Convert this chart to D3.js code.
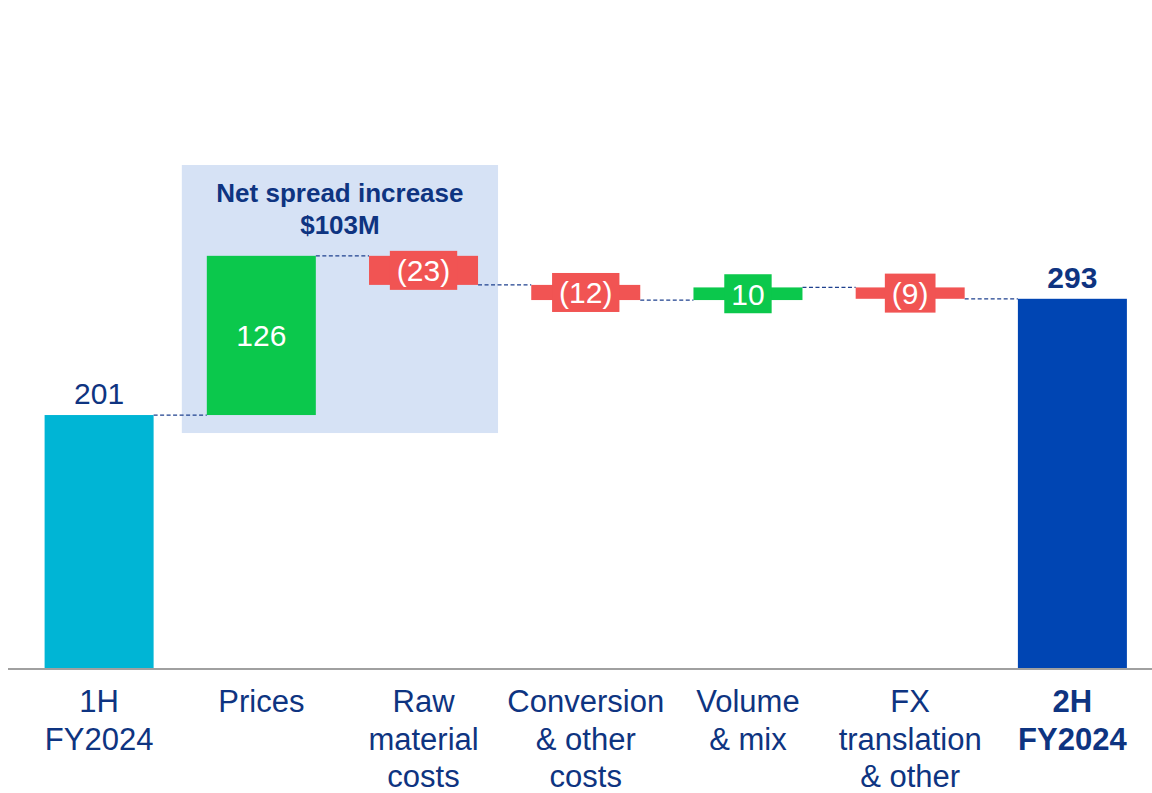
<!DOCTYPE html>
<html>
<head>
<meta charset="utf-8">
<script src="https://cdn.jsdelivr.net/npm/d3@7/dist/d3.min.js"></script>
<style>
  html, body { margin: 0; padding: 0; background: #ffffff; }
  svg { display: block; font-family: "Liberation Sans", Arial, Helvetica, sans-serif; }
</style>
</head>
<body>
<svg id="chart" width="1152" height="793"></svg>
<script>
// Bridge steps from 1H to 2H FY2024 ($M)
const categories = ["1H\nFY2024", "Prices", "Raw\nmaterial\ncosts", "Conversion\n& other\ncosts", "Volume\n& mix", "FX\ntranslation\n& other", "2H\nFY2024"];
const values = [201, 126, -23, -12, 10, -9, 293];
const kinds = ["start", "delta", "delta", "delta", "delta", "delta", "total"];
const annotationLines = ["Net spread increase", "$103M"];
const annotationSpan = ["Prices", "Raw\nmaterial\ncosts"];

const navy = "#0E3481";
const colors = { start: "#00B5D5", total: "#0045B3", up: "#0BC84C", down: "#F15453" };

const W = 1152, H = 793;
const svg = d3.select("#chart");

const x = d3.scaleBand()
  .domain(categories)
  .range([18, 1153.5])
  .paddingInner(0.328)
  .paddingOuter(0.164);

const y = d3.scaleLinear().domain([0, 500]).range([669, 669 - 500 * 1.2635]);

// running totals for each step
let run = 0;
const steps = categories.map((c, i) => {
  const v = values[i];
  let lo, hi, end;
  if (kinds[i] === "delta") {
    const start = run;
    end = run + v;
    lo = Math.min(start, end); hi = Math.max(start, end);
    run = end;
  } else {
    lo = 0; hi = v; end = v; run = v;
  }
  return { cat: c, value: v, kind: kinds[i], lo, hi, end };
});

const fmt = v => v < 0 ? "(" + Math.abs(v) + ")" : String(v);
const fill = d => d.kind === "start" ? colors.start : d.kind === "total" ? colors.total : (d.value >= 0 ? colors.up : colors.down);

// shaded annotation panel behind the spread steps
const a0 = x(annotationSpan[0]) - 25;
const a1 = x(annotationSpan[1]) + x.bandwidth() + 20;
svg.append("rect")
  .attr("x", a0).attr("y", 165)
  .attr("width", a1 - a0)
  .attr("height", y(values[0]) + 18 - 165)
  .attr("fill", "#D6E2F5");

const ann = svg.append("text")
  .attr("x", (a0 + a1) / 2)
  .attr("text-anchor", "middle")
  .attr("font-size", 26).attr("font-weight", "bold")
  .attr("fill", navy);
annotationLines.forEach((t, i) => {
  ann.append("tspan").attr("x", (a0 + a1) / 2).attr("y", 202 + i * 32).text(t);
});

// dashed connectors between consecutive steps
const conn = steps.slice(0, -1).map((d, i) => ({
  x1: x(d.cat) + x.bandwidth(),
  x2: x(steps[i + 1].cat),
  level: d.end
}));
svg.selectAll("line.conn").data(conn).enter().append("line")
  .attr("class", "conn")
  .attr("x1", d => d.x1).attr("x2", d => d.x2)
  .attr("y1", d => y(d.level)).attr("y2", d => y(d.level))
  .attr("stroke", "#1E408E").attr("stroke-width", 1.2)
  .attr("stroke-dasharray", "4,2.5");

// bars
svg.selectAll("rect.bar").data(steps).enter().append("rect")
  .attr("class", "bar")
  .attr("x", d => x(d.cat))
  .attr("width", x.bandwidth())
  .attr("y", d => y(d.hi))
  .attr("height", d => y(d.lo) - y(d.hi))
  .attr("fill", fill);

// value labels
const valueFont = 30;
steps.forEach(d => {
  const cx = x(d.cat) + x.bandwidth() / 2;
  if (d.kind !== "delta") {
    svg.append("text")
      .attr("x", cx).attr("y", y(d.hi) - 11)
      .attr("text-anchor", "middle")
      .attr("font-size", valueFont)
      .attr("font-weight", d.kind === "total" ? "bold" : "normal")
      .attr("fill", navy)
      .text(fmt(d.value));
  } else {
    const cy = (y(d.lo) + y(d.hi)) / 2;
    const small = (y(d.lo) - y(d.hi)) < 40;
    const g = svg.append("g");
    const t = g.append("text")
      .attr("x", cx).attr("y", cy + 11)
      .attr("text-anchor", "middle")
      .attr("font-size", valueFont)
      .attr("fill", "#ffffff")
      .text(fmt(d.value));
    if (small) {
      const bb = t.node().getBBox();
      g.insert("rect", "text")
        .attr("x", cx - bb.width / 2 - 7)
        .attr("width", bb.width + 14)
        .attr("y", cy - 19.5)
        .attr("height", 39)
        .attr("fill", fill(d));
    }
  }
});

// baseline
svg.append("line")
  .attr("x1", 8).attr("x2", W)
  .attr("y1", y(0)).attr("y2", y(0))
  .attr("stroke", "#A0A0A0").attr("stroke-width", 2);

// category labels
const xAxis = d3.axisBottom(x).tickSize(0).tickPadding(0).tickFormat("");
const axisG = svg.append("g").attr("transform", `translate(0,${y(0)})`).call(xAxis);
axisG.select(".domain").remove();
axisG.selectAll(".tick").each(function (c, i) {
  const t = d3.select(this).append("text")
    .attr("text-anchor", "middle")
    .attr("font-size", 31)
    .attr("font-family", "'Liberation Sans', Arial, sans-serif")
    .attr("font-weight", kinds[i] === "total" ? "bold" : "normal")
    .attr("fill", navy);
  c.split("\n").forEach((line, j) => {
    t.append("tspan").attr("x", 0).attr("y", 43 + j * 37.5).text(line);
  });
});
</script>
</body>
</html>
